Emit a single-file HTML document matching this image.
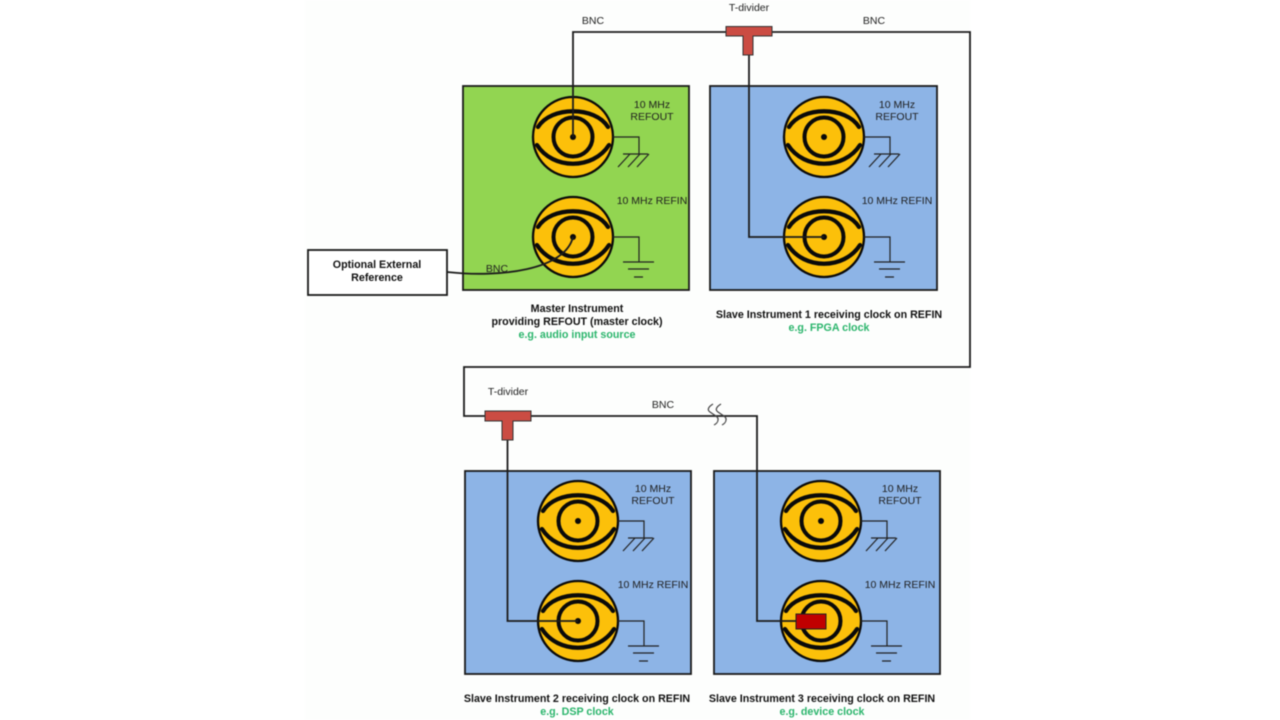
<!DOCTYPE html>
<html><head><meta charset="utf-8"><title>Clock diagram</title>
<style>
html,body{margin:0;padding:0;background:#fff;width:1280px;height:720px;overflow:hidden}
svg{display:block;filter:blur(0.5px)}
text{font-family:"Liberation Sans",sans-serif;font-size:10.5px;fill:#1e1e1e;text-anchor:middle}
.b{font-weight:bold;font-size:10.7px;fill:#111}
.g{font-weight:bold;font-size:10.7px;fill:#2bb56c}
</style></head><body>
<svg width="1280" height="720" viewBox="0 0 1280 720" xmlns="http://www.w3.org/2000/svg">
<defs>
<g id="c">
<circle r="40" fill="#fcc00a" stroke="#0a0a0a" stroke-width="2.3"/>
<circle r="19.500" fill="none" stroke="#0a0a0a" stroke-width="4"/>
<circle r="3" fill="#0a0a0a"/>
<path d="M-35-10C-22-31 22-31 35-10M-36 8C-20 33 20 33 36 8" fill="none" stroke="#0a0a0a" stroke-width="4.200" stroke-linecap="round"/>
</g>
<g id="h" fill="none" stroke="#222" stroke-width="1.2">
<path d="M40 0H66V17M50 17H75M57 17L45 30M67 17L55 30M76 17L64 30"/>
</g>
<g id="e" fill="none" stroke="#222" stroke-width="1.2">
<path d="M40 0H66V25M50 25H81M55 32H76M61 40H70"/>
</g>
</defs>
<rect x="305" y="0" width="665" height="720" fill="#fdfefd"/>

<rect x="463" y="86" width="226" height="204" fill="#92d551" stroke="#1a1a1a" stroke-width="1.8"/>
<rect x="710" y="86" width="227" height="204" fill="#8db4e6" stroke="#1a1a1a" stroke-width="1.8"/>
<rect x="465" y="471" width="226" height="203" fill="#8db4e6" stroke="#1a1a1a" stroke-width="1.8"/>
<rect x="714" y="471" width="226" height="203" fill="#8db4e6" stroke="#1a1a1a" stroke-width="1.8"/>

<use href="#c" x="573" y="137"/><use href="#h" x="573" y="137"/>
<use href="#c" x="573" y="237"/><use href="#e" x="573" y="237"/>
<use href="#c" x="824" y="137"/><use href="#h" x="824" y="137"/>
<use href="#c" x="824" y="237"/><use href="#e" x="824" y="237"/>
<use href="#c" x="578" y="521"/><use href="#h" x="578" y="521"/>
<use href="#c" x="578" y="621"/><use href="#e" x="578" y="621"/>
<use href="#c" x="821" y="521"/><use href="#h" x="821" y="521"/>
<use href="#c" x="821" y="621"/><use href="#e" x="821" y="621"/>

<g fill="none" stroke="#1c1c1c" stroke-width="1.8">
<path d="M573 137V32H970V367H464V416H757V621H797"/>
<path d="M749 55V237H824"/>
<path d="M507.500 440V621H578"/>
<path d="M447 272C500 278 565 270 573 237"/>
</g>
<rect x="308" y="250" width="139" height="45" fill="#fff" stroke="#1a1a1a" stroke-width="1.8"/>

<path d="M726 26.500H772V36H753V55H743V36H726Z" fill="#cb4c43" stroke="#333" stroke-width="1"/>
<path d="M485 411H531V421H513V440H502V421H485Z" fill="#cb4c43" stroke="#333" stroke-width="1"/>
<rect x="796" y="614" width="30" height="15" fill="#c00000" stroke="#222" stroke-width="1"/>

<g fill="none" stroke="#444" stroke-width="1.2">
<path d="M713 404C708 407 707 410 710 412C714 415 719 417 718 420C718 422 716 424 714 425"/>
<path d="M721 404C716 407 715 410 718 412C722 415 727 417 726 420C726 422 724 424 722 425"/>
</g>

<text x="593" y="24">BNC</text>
<text x="749" y="11">T-divider</text>
<text x="874" y="24">BNC</text>
<text x="497" y="272">BNC</text>
<text x="508" y="395">T-divider</text>
<text x="663" y="408">BNC</text>

<text x="652" y="108">10 MHz</text><text x="652" y="120">REFOUT</text>
<text x="652" y="204">10 MHz REFIN</text>
<text x="897" y="108">10 MHz</text><text x="897" y="120">REFOUT</text>
<text x="897" y="204">10 MHz REFIN</text>
<text x="653" y="492">10 MHz</text><text x="653" y="504">REFOUT</text>
<text x="653" y="588">10 MHz REFIN</text>
<text x="900" y="492">10 MHz</text><text x="900" y="504">REFOUT</text>
<text x="900" y="588">10 MHz REFIN</text>

<text class="b" x="377" y="268">Optional External</text>
<text class="b" x="377" y="281">Reference</text>
<text class="b" x="577" y="312">Master Instrument</text>
<text class="b" x="577" y="325">providing REFOUT (master clock)</text>
<text class="g" x="577" y="338">e.g. audio input source</text>
<text class="b" x="829" y="318">Slave Instrument 1 receiving clock on REFIN</text>
<text class="g" x="829" y="331">e.g. FPGA clock</text>
<text class="b" x="577" y="702">Slave Instrument 2 receiving clock on REFIN</text>
<text class="g" x="577" y="715">e.g. DSP clock</text>
<text class="b" x="822" y="702">Slave Instrument 3 receiving clock on REFIN</text>
<text class="g" x="822" y="715">e.g. device clock</text>
</svg>
</body></html>
